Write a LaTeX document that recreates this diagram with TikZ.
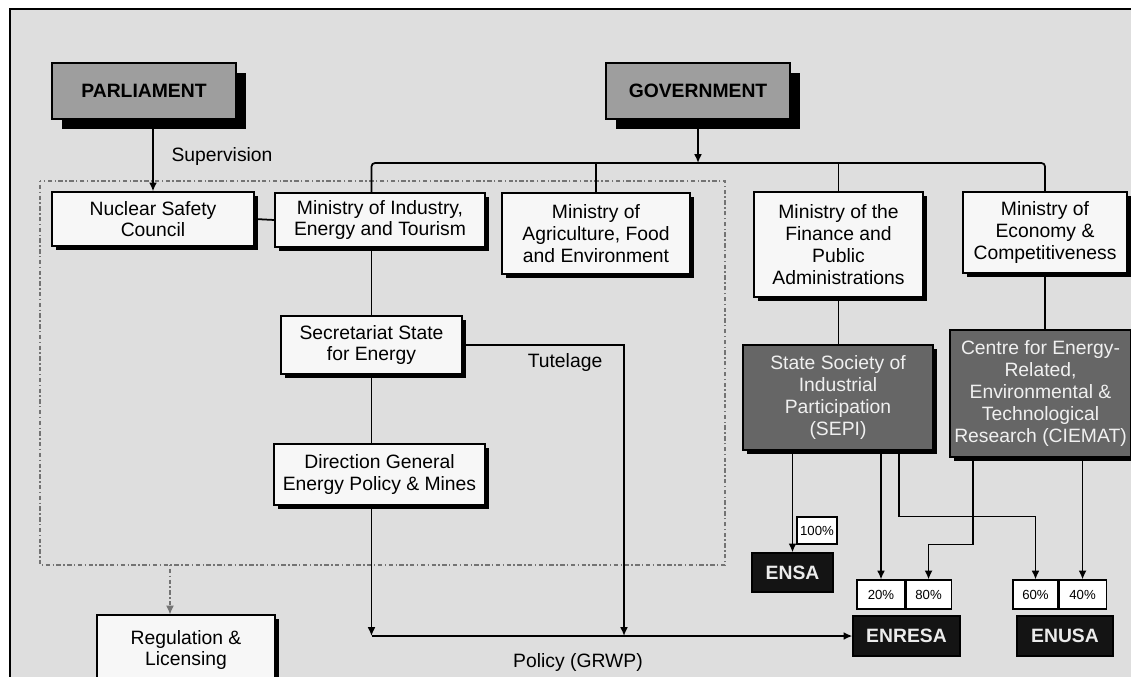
\documentclass[tikz,border=0pt]{standalone}
\usepackage{fontspec}
\setmainfont{Liberation Sans}
\usetikzlibrary{arrows.meta,calc,positioning,shadows}
\tikzset{%
	topbox/.style    = {draw, rectangle, line width=0.7pt, fill=black!38, minimum width=3.68cm, minimum height=1.12cm, font=\fontsize{11}{12.4}\selectfont\bfseries, drop shadow={shadow xshift=0.2cm, shadow yshift=-0.2cm, fill=black, opacity=1}},
	whitebox/.style  = {draw, rectangle, line width=0.7pt, fill=black!3, align=center, inner xsep=2pt, font=\fontsize{11}{12.4}\selectfont, drop shadow={shadow xshift=0.08cm, shadow yshift=-0.08cm, fill=black, opacity=1}},
	darkbox/.style   = {draw, rectangle, line width=0.7pt, fill=black!60, text=black!6, align=center, inner xsep=2pt, font=\fontsize{11}{12.4}\selectfont, drop shadow={shadow xshift=0.08cm, shadow yshift=-0.08cm, fill=black, opacity=1}},
	blackbox/.style  = {draw, rectangle, line width=0.7pt, fill=black!92, text=black!8, font=\fontsize{11}{12.4}\selectfont\bfseries},
	pctbox/.style    = {draw, rectangle, line width=0.6pt, fill=white, minimum height=0.58cm, inner sep=0pt, font=\fontsize{7.5}{8}\selectfont},
	arrow/.style     = {line width=1pt, -{Latex[length=5pt,width=4.5pt]}},
	link/.style      = {line width=1pt},
	regionline/.style= {draw=black!55, line width=0.6pt, dash pattern=on 0.8pt off 1.4pt on 2.5pt off 1.4pt},
	lbl/.style       = {font=\fontsize{11}{12.4}\selectfont},
}
\begin{document}
\begin{tikzpicture}[x=0.02cm,y=-0.02cm]
	\useasboundingbox (0,0) rectangle (1131,676);
	\draw[line width=1.2pt, fill=black!13] (10,9) rectangle (1150,700);
	% dotted region of the regulator
	\draw[regionline] (40,181) rectangle (725,565);
	\coordinate (regtop) at (170,565);
	\coordinate (bus) at (699,163);
	\coordinate (tut) at (624,0);
	% boxes
	\node[topbox] (parl) at (144,91) {PARLIAMENT};
	\node[topbox] (gov) at (698,91) {GOVERNMENT};
	\node[whitebox, minimum width=4.04cm, minimum height=1.08cm] (nsc) at (153,219) {Nuclear Safety\\Council};
	\node[whitebox, minimum width=4.2cm, minimum height=1.08cm] (mind) at (380,220) {Ministry of Industry,\\Energy and Tourism};
	\node[whitebox, minimum width=3.76cm, minimum height=1.62cm] (agr) at (596,233.5) {Ministry of\\Agriculture, Food\\and Environment};
	\node[whitebox, minimum width=3.38cm, minimum height=2.1cm] (fin) at (838.5,244.5) {Ministry of the\\Finance and\\Public\\Administrations};
	\node[whitebox, minimum width=3.28cm, minimum height=1.62cm] (eco) at (1045,232.5) {Ministry of\\Economy \&\\Competitiveness};
	\node[whitebox, minimum width=3.62cm, minimum height=1.16cm] (sec) at (371.5,345) {Secretariat State\\for Energy};
	\node[whitebox, minimum width=4.22cm, minimum height=1.22cm] (dir) at (379.5,474.5) {Direction General\\Energy Policy \& Mines};
	\node[whitebox, minimum width=3.56cm, minimum height=1.4cm] (reg) at (186,650) {Regulation \&\\Licensing};
	\node[darkbox, minimum width=3.8cm, minimum height=2.1cm] (sepi) at (838,397.5) {State Society of\\Industrial\\Participation\\(SEPI)};
	\node[darkbox, minimum width=3.62cm, minimum height=2.54cm] (ciemat) at (1040.5,393.5) {Centre for Energy-\\Related,\\Environmental \&\\Technological\\Research (CIEMAT)};
	\node[blackbox, minimum width=1.62cm, minimum height=0.78cm] (ensa) at (792.5,572.5) {ENSA};
	\node[blackbox, minimum width=2.14cm, minimum height=0.8cm] (enresa) at (906.5,636) {ENRESA};
	\node[blackbox, minimum width=1.92cm, minimum height=0.8cm] (enusa) at (1065,636) {ENUSA};
	\node[pctbox, minimum width=0.8cm, minimum height=0.54cm] (p100) at (817,530.5) {100\%};
	\node[pctbox, minimum width=0.96cm] (p20) at (881,594.5) {20\%};
	\node[pctbox, minimum width=0.9cm, right=0pt of p20] (p80) {80\%};
	\node[pctbox, minimum width=0.9cm] (p60) at (1035.5,594.5) {60\%};
	\node[pctbox, minimum width=0.94cm, right=0pt of p60] (p40) {40\%};
	% labels
	\node[lbl] (lblsup) at (222,157) {Supervision};
	\node[lbl] (lbltut) at (565,362) {Tutelage};
	\node[lbl] (lblpol) at (578,662) {Policy (GRWP)};
	% connectors
	\draw[arrow, line width=1.5pt] (nsc.north |- parl.south) -- (nsc.north);
	\draw[arrow] (gov.south) -- (gov.south |- bus);
	\draw[link, rounded corners=2pt] (mind.north -| sec.center) |- (bus) -| (eco.north);
	\draw[link] (agr.north) -- (agr.north |- bus);
	\draw[link] (fin.north) -- (fin.north |- bus);
	\draw[link] (nsc.east) -- (mind.west);
	\draw[link] (sec.north) -- (sec.north |- mind.south);
	\draw[link] (sec.south) -- (sec.south |- dir.north);
	\draw[link] (fin.south) -- (fin.south |- sepi.north);
	\draw[link] (eco.south) -- (eco.south |- ciemat.north);
	\draw[arrow] (dir.south -| sec.center) -- (sec.center |- enresa.west);
	\draw[arrow] (sec.east) -| (tut |- enresa.west);
	\draw[arrow] (sec.center |- enresa.west) -- (enresa.west);
	\draw[arrow, regionline] (regtop) -- (regtop |- reg.north);
	\draw[arrow] (ensa.north |- sepi.south) -- (ensa.north);
	\draw[arrow] (p20.north |- sepi.south) -- (p20.north);
	\draw[arrow] ($(sepi.south)+(61,0)$) -- ++(0,66) -| (p60.north);
	\draw[arrow] ($(ciemat.south)+(-67.5,0)$) -- ++(0,87) -| (p80.north);
	\draw[arrow] (p40.north |- ciemat.south) -- (p40.north);
\end{tikzpicture}
\end{document}
